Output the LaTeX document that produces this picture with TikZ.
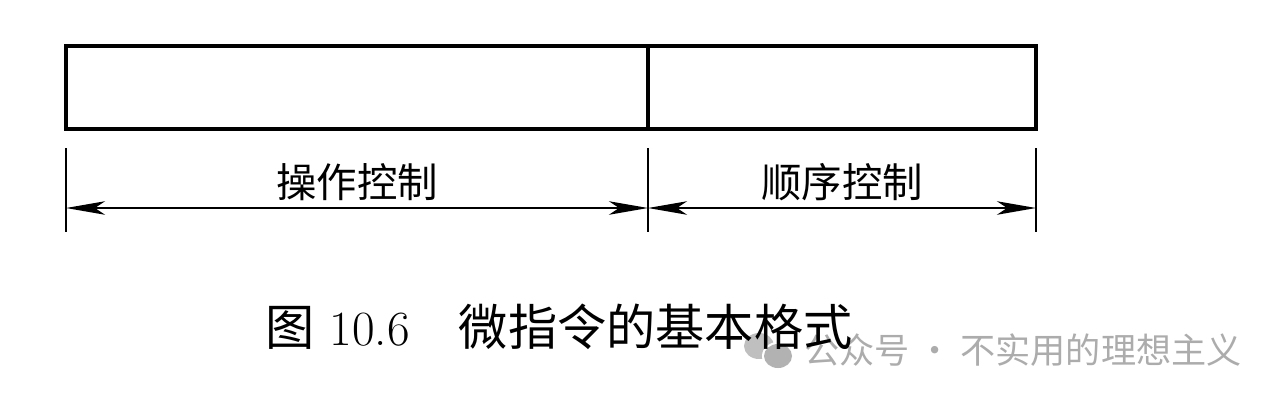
\documentclass[tikz,border=0pt]{standalone}
\usepackage{fontspec}
\usepackage{tikz}
\usetikzlibrary{arrows.meta,positioning,calc}
\newfontfamily\cjk{Noto Sans CJK SC}

\begin{document}
\begin{tikzpicture}[x=0.02cm,y=-0.02cm,
    field/.style={draw,line width=2.7pt,minimum height=1.66cm,inner sep=0pt,outer sep=0pt,anchor=north west},
    dimline/.style={line width=1pt,{Stealth[length=0.78cm,width=0.27cm,inset=0.2cm]}-{Stealth[length=0.78cm,width=0.27cm,inset=0.2cm]}},
    tick/.style={line width=1pt}]
  \useasboundingbox (0,0) rectangle (1280,403);
  % the two fields of the word
  \node[field,minimum width=11.64cm] (opfield) at (66,46) {};
  \node[field,minimum width=7.76cm] (seqfield) at (648,46) {};
  % extension lines and arrows
  \foreach \x/\name in {66/ta,648/tb,1036/tc}{
    \coordinate (\name) at (\x,148);
    \coordinate (\name a) at (\x,208);
    \draw[tick] (\name) -- ++(0,84);
  }
  \draw[dimline] (taa) -- (tba);
  \draw[dimline] (tba) -- (tca);
  \node[font=\cjk\fontsize{23}{26}\selectfont] (oplabel) at ($(taa)!0.5!(tba)+(0,-26)$) {操作控制};
  \node[font=\cjk\fontsize{23}{26}\selectfont] (seqlabel) at ($(tba)!0.5!(tca)+(0,-26)$) {顺序控制};
  % watermark (behind the caption)
  \fill[gray!50] (759,346) ellipse (15 and 13);
  \fill[white] (778,356) ellipse (16 and 14);
  \fill[gray!60] (778,356) ellipse (14 and 12);
  \node[font=\cjk\fontsize{20}{24}\selectfont,text=gray!65,anchor=west] (mark) at (798,350) {公众号 · 不实用的理想主义};
  % caption
  \node[font=\fontsize{28}{31}\selectfont] (caption) at (559,327) {{\cjk 图} 10.6\quad{\cjk 微指令的基本格式}};
\end{tikzpicture}
\end{document}
